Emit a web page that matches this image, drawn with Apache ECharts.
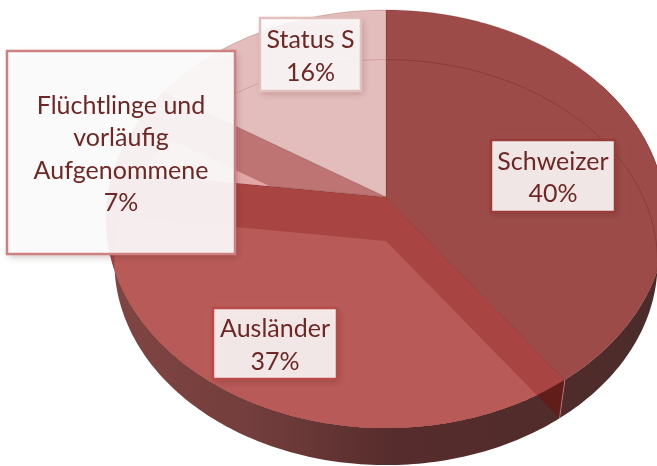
<!DOCTYPE html>
<html><head><meta charset="utf-8">
<style>html,body{margin:0;padding:0;background:#fff}#c{width:657px;height:466px}</style>
<script src="https://cdn.jsdelivr.net/npm/echarts@6/dist/echarts.min.js"></script>
</head><body><div id="c"></div>
<script>
var categories = ['Schweizer', 'Ausländer', 'Flüchtlinge und\nvorläufig\nAufgenommene', 'Status S'];
var values = [40, 37, 7, 16];

// Styling and layout, kept apart from the data
var topColors = ['#9c4b48', '#a84442', '#bd7473', '#e3bdbc'];
var throughColors = [null, '#b85a58', '#e3a7a5', null];
var labelBorders = ['#993d3b', '#b94b4a', '#cf8181', '#e3bfbe'];
var labelFills = ['rgba(255,255,255,0.87)', 'rgba(255,255,255,0.87)', 'rgba(255,255,255,0.91)', 'rgba(255,255,255,0.86)'];
var labelRects = [[491, 140, 124, 72], [213, 308, 124, 71], [7, 51, 228, 203], [260, 18, 101, 73]];
var apexX = 386, apexY = 197, radiusX = 278.4, forward = 206.7, tilt = -0.1053;
var depth = 44, shrink = 0.97;

function project(deg, lower) {
  var a = deg * Math.PI / 180, u = Math.sin(a), v = -Math.cos(a), w = 1 + tilt * v;
  var x = radiusX * u / w, y = forward * v / w;
  return lower ? [apexX + shrink * x, apexY + shrink * y + depth] : [apexX + x, apexY + y];
}
function rim(from, to, lower) {
  var pts = [], n = Math.max(2, Math.ceil(Math.abs(to - from)));
  for (var i = 0; i <= n; i++) pts.push(project(from + (to - from) * i / n, lower));
  return pts;
}
function sector(from, to, lower) {
  var centre = lower ? [apexX, apexY + depth] : [apexX, apexY];
  return [centre].concat(rim(from, to, lower));
}
var total = values.reduce(function (s, v) { return s + v; }, 0);
var sideFill = { type: 'linear', x: 112, y: 0, x2: 657, y2: 0, global: true, colorStops: [
  { offset: 0, color: '#804543' }, { offset: 0.25, color: '#733e3d' },
  { offset: 0.52, color: '#572c2c' }, { offset: 1, color: '#4b2c2a' }] };

function renderItem(params, api) {
  var i = params.dataIndex, before = 0;
  for (var k = 0; k < i; k++) before += values[k];
  var start = before / total * 360, end = (before + api.value(0)) / total * 360;
  var kids = [];

  var sFrom = Math.max(start, 55), sTo = Math.min(end, 285);
  if (sTo > sFrom) {
    kids.push({ type: 'polygon', z2: 1, shape: { points: rim(sFrom, sTo, false).concat(rim(sTo, sFrom, true)) },
      style: { fill: sideFill } });
  }
  if (i === 0) {
    kids.push({ type: 'polygon', z2: 2, shape: { points: [[apexX, apexY], project(end, false), project(end, true), [apexX, apexY + depth]] },
      style: { fill: '#611d1a' } });
    kids.push({ type: 'line', z2: 6, shape: { x1: project(end, false)[0], y1: project(end, false)[1], x2: project(end, true)[0], y2: project(end, true)[1] },
      style: { stroke: 'rgba(225,160,155,0.6)', lineWidth: 1 } });
  }

  var top = sector(start, end, false);
  kids.push({ type: 'polygon', z2: 3, shape: { points: top },
    style: { fill: topColors[i], stroke: 'rgba(110,40,38,0.35)', lineWidth: 0.7 } });
  if (throughColors[i]) {
    kids.push({ type: 'polygon', z2: 4, shape: { points: sector(start, end, true) },
      clipPath: { type: 'polygon', shape: { points: top } },
      style: { fill: throughColors[i] } });
  }
  var aTo = i === 0 ? 100 : end;
  if (i === 0 || i === 3) {
    kids.push({ type: 'polyline', z2: 5, shape: { points: rim(start, aTo, true) },
      style: { fill: null, stroke: i === 0 ? 'rgba(115,40,38,0.55)' : 'rgba(190,130,130,0.6)', lineWidth: 0.8 } });
  }

  var r = labelRects[i];
  kids.push({ type: 'rect', z2: 10, shape: { x: r[0], y: r[1], width: r[2], height: r[3] },
    style: { fill: labelFills[i], shadowBlur: 7, shadowColor: 'rgba(70,20,20,0.28)', shadowOffsetX: 2, shadowOffsetY: 3 } });
  kids.push({ type: 'rect', z2: 11, shape: { x: r[0], y: r[1], width: r[2], height: r[3] },
    style: { fill: null, stroke: labelBorders[i], lineWidth: 2.5 } });
  kids.push({ type: 'text', z2: 12, x: r[0] + r[2] / 2, y: r[1] + r[3] / 2 + 2,
    style: { text: categories[i] + '\n' + api.value(0) + '%', align: 'center', verticalAlign: 'middle',
      fontFamily: 'Lato', fontSize: 25, lineHeight: 32.5, fill: '#6e2725' } });
  return { type: 'group', children: kids };
}

var chart = echarts.init(document.getElementById('c'), null, { renderer: 'canvas', width: 657, height: 466 });
chart.setOption({
  backgroundColor: '#ffffff',
  animation: false,
  series: [{
    type: 'custom',
    coordinateSystem: 'none',
    silent: true,
    clip: false,
    renderItem: renderItem,
    data: values.map(function (v, i) { return { name: categories[i], value: v }; })
  }]
});
</script></body></html>
